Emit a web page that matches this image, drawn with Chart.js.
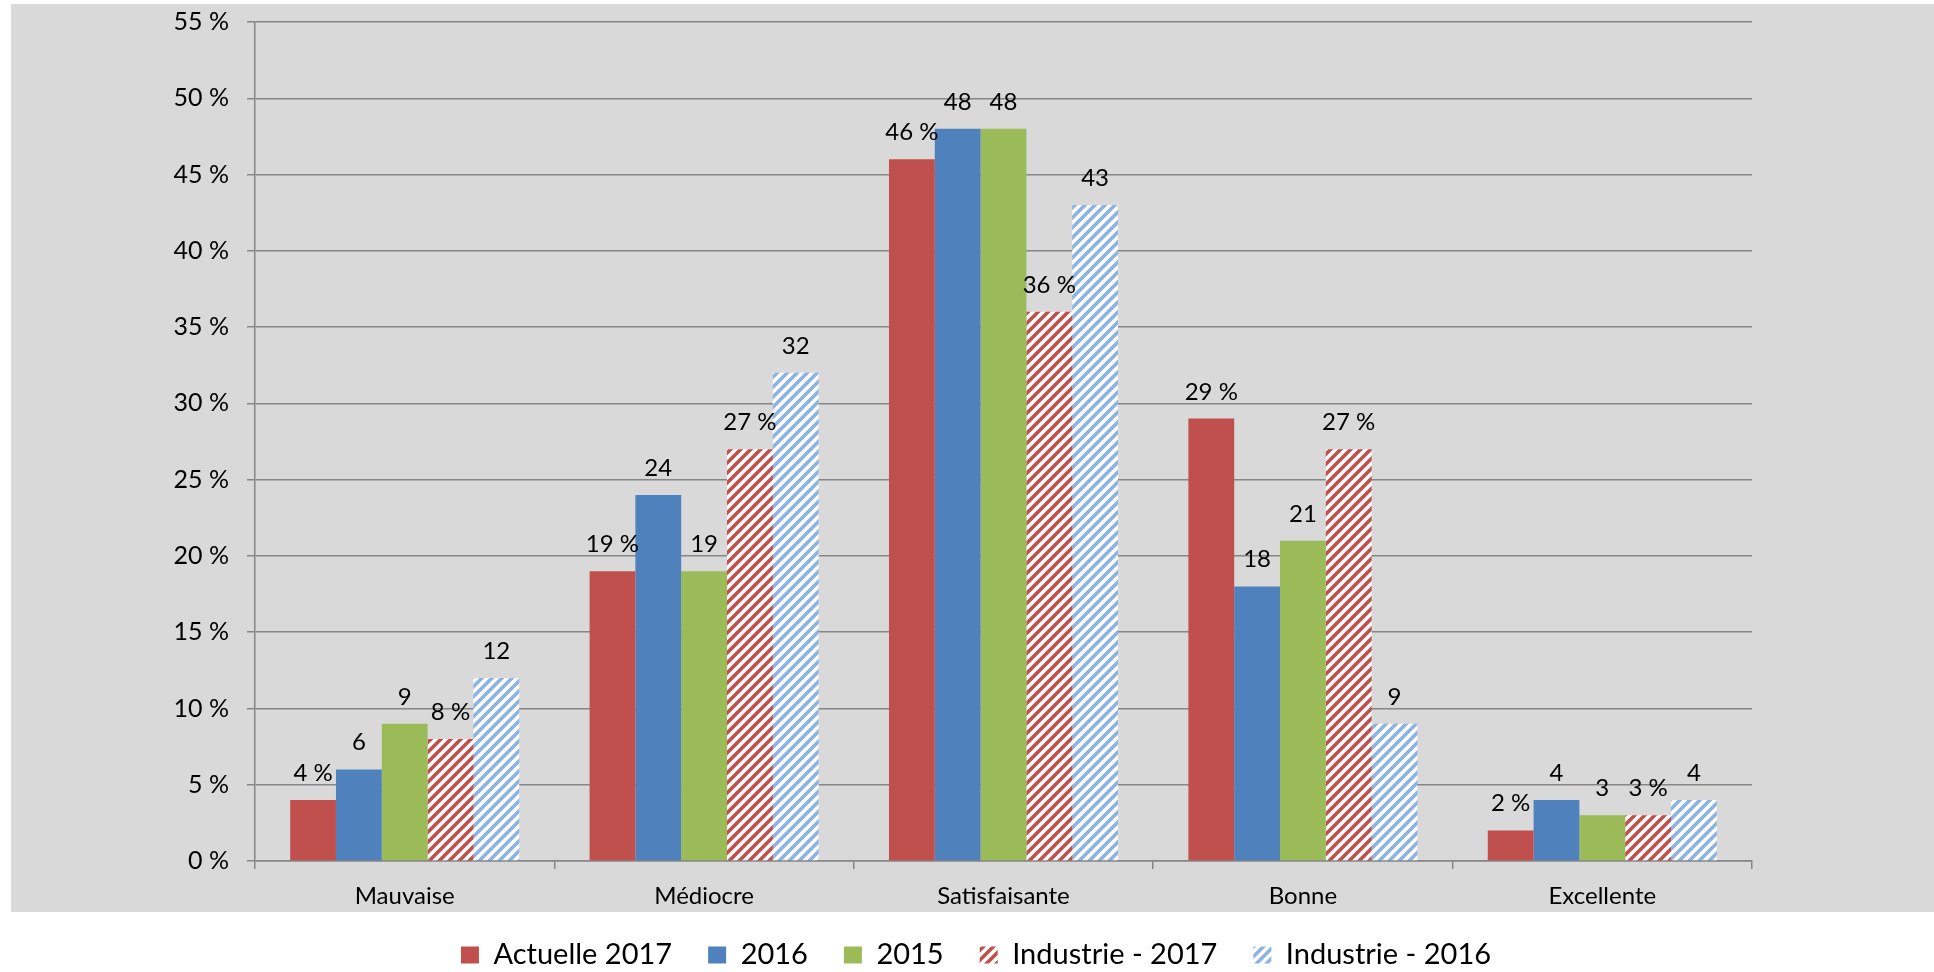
<!DOCTYPE html>
<html>
<head>
<meta charset="utf-8">
<script src="https://cdn.jsdelivr.net/npm/chart.js@4/dist/chart.umd.min.js"></script>
<style>
  html, body { margin: 0; padding: 0; background: #ffffff; }
  #wrap { width: 1934px; height: 972px; position: relative; }
</style>
</head>
<body>
<div id="wrap"><canvas id="c" width="1934" height="972"></canvas></div>
<script>
const categories = ["Mauvaise", "Médiocre", "Satisfaisante", "Bonne", "Excellente"];
const seriesNames = ["Actuelle 2017", "2016", "2015", "Industrie - 2017", "Industrie - 2016"];
const actuelle2017 = [4, 19, 46, 29, 2];
const v2016 = [6, 24, 48, 18, 4];
const v2015 = [9, 19, 48, 21, 3];
const industrie2017 = [8, 27, 36, 27, 3];
const industrie2016 = [12, 32, 43, 9, 4];
const labelSuffix = [" %", "", "", " %", ""];
const yTicks = [0, 5, 10, 15, 20, 25, 30, 35, 40, 45, 50, 55];

function hatch(color) {
  const s = 10;
  const c = document.createElement('canvas');
  c.width = s; c.height = s;
  const g = c.getContext('2d');
  g.fillStyle = '#ffffff';
  g.fillRect(0, 0, s, s);
  g.strokeStyle = color;
  g.lineWidth = 3.6;
  g.beginPath();
  g.moveTo(-s, s * 2); g.lineTo(s * 2, -s);
  g.moveTo(-s, s); g.lineTo(s, -s);
  g.moveTo(0, s * 2); g.lineTo(s * 2, 0);
  g.stroke();
  return g.createPattern(c, 'repeat');
}

const ctx = document.getElementById('c').getContext('2d');

const bgPlugin = {
  id: 'bgPlugin',
  beforeDraw(chart) {
    const g = chart.ctx;
    g.save();
    g.fillStyle = '#ffffff';
    g.fillRect(0, 0, chart.width, chart.height);
    g.fillStyle = '#d9d9d9';
    g.fillRect(11, 4, chart.width - 11, 908);
    g.restore();
  }
};

const legendShift = {
  id: 'legendShift',
  afterLayout(chart) {
    const lg = chart.legend;
    const pad = lg.options.labels.padding;
    const fs = lg.options.labels.font.size;
    lg.top = 955 - pad - fs / 2;
    lg.bottom = chart.height;
    lg.left = 18;
    lg.right = chart.width;
  }
};

const valueLabels = {
  id: 'valueLabels',
  afterDatasetsDraw(chart) {
    const g = chart.ctx;
    g.save();
    g.font = '24px Lato';
    g.fillStyle = '#000000';
    g.textAlign = 'center';
    g.textBaseline = 'alphabetic';
    chart.data.datasets.forEach((ds, di) => {
      const meta = chart.getDatasetMeta(di);
      meta.data.forEach((el, i) => {
        g.fillText(ds.data[i] + labelSuffix[di], el.x, el.y - 19);
      });
    });
    g.restore();
  }
};

const seriesData = [actuelle2017, v2016, v2015, industrie2017, industrie2016];
const fills = ['#c0504d', '#4f81bd', '#9bbb59', hatch('#c0504d'), hatch('#8db3e2')];

new Chart(ctx, {
  type: 'bar',
  data: {
    labels: categories,
    datasets: seriesData.map((d, i) => ({
      label: seriesNames[i],
      data: d,
      backgroundColor: fills[i],
      borderWidth: 0,
      categoryPercentage: 0.765,
      barPercentage: 1.0
    }))
  },
  options: {
    responsive: false,
    animation: false,
    events: [],
    layout: { autoPadding: false, padding: { top: 22, right: 182, left: 0, bottom: 0 } },
    plugins: {
      tooltip: { enabled: false },
      legend: {
        position: 'bottom',
        maxHeight: 60,
        labels: {
          boxWidth: 18,
          boxHeight: 17,
          padding: 36,
          color: '#000000',
          font: { family: 'Lato', size: 29 }
        }
      }
    },
    scales: {
      x: {
        offset: true,
        grid: {
          offset: true,
          drawOnChartArea: false,
          drawTicks: true,
          tickLength: 8,
          color: '#868686',
          lineWidth: 1.5
        },
        border: { display: true, color: '#868686', width: 1.5 },
        ticks: {
          color: '#000000',
          padding: 13,
          font: { family: 'Lato', size: 24 }
        },
        afterFit(s) { s.height = s.chart.height - 861 - s.chart.legend.height; }
      },
      y: {
        min: 0,
        max: 55,
        afterBuildTicks(s) { s.ticks = yTicks.map(v => ({ value: v })); },
        grid: {
          color: '#868686',
          lineWidth: 1.5,
          drawTicks: true,
          tickLength: 8
        },
        border: { display: true, color: '#868686', width: 1.5 },
        ticks: {
          color: '#000000',
          padding: 18,
          font: { family: 'Lato', size: 25 },
          callback: (v) => v + ' %'
        },
        afterFit(s) { s.width = 255; s.paddingTop = 0; s.paddingBottom = 0; }
      }
    }
  },
  plugins: [bgPlugin, legendShift, valueLabels]
});
</script>
</body>
</html>
